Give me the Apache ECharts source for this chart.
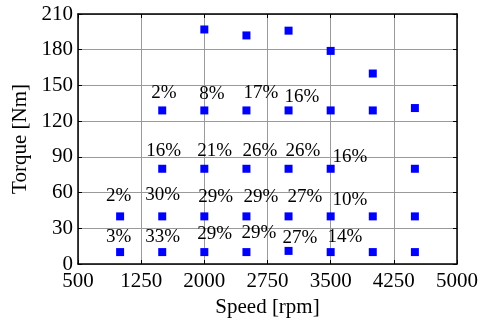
<!DOCTYPE html>
<html><head><meta charset="utf-8">
<script src="https://cdn.jsdelivr.net/npm/echarts@6/dist/echarts.min.js"></script>
<style>html,body{margin:0;padding:0;background:#fff}#c{width:482px;height:323px}</style>
</head><body><div id="c"></div>
<script>
// Operating points
var speeds  = [1000,1500,2000,2500,3000,3500,4000,4500, 1000,1500,2000,2500,3000,3500,4000,4500, 1500,2000,2500,3000,3500,4500, 1500,2000,2500,3000,3500,4000,4500, 2000,2500,3000,3500,4000];
var torques = [10,10,10,10,11,10,10,10, 40,40,40,40,40,40,40,40, 80,80,80,80,80,80, 129,129,129,129,129,129,131, 197,192,196,179,160];
// Percentage labels (anchor = left edge / middle)
var labelText   = ['2%','8%','17%','16%', '16%','21%','26%','26%','16%', '2%','30%','29%','29%','27%','10%', '3%','33%','29%','29%','27%','14%'];
var labelSpeed  = [1369,1940,2464,2952, 1309,1916,2452,2963,3523, 833,1297,1928,2464,2987,3523, 833,1297,1916,2440,2928,3463];
var labelTorque = [144,143,144,140, 95,95,95,95,90, 57,58,56,56,56,54, 23,23,25,26,22,23];
var xTicks = [500,1250,2000,2750,3500,4250,5000];
var yTicks = [0,30,60,90,120,150,180,210];
var X0 = xTicks[0];

var font = 'Liberation Serif';
var pts = speeds.map(function(s,i){return [s - X0, torques[i]];});
var lbl = labelText.map(function(t,i){return {value:[labelSpeed[i]-X0, labelTorque[i]], name:t};});

var chart = echarts.init(document.getElementById('c'));
function axisCommon(){ return {
  axisLine:{show:true,onZero:false,lineStyle:{color:'#000',width:1.5}},
  axisTick:{show:true,inside:true,length:4,lineStyle:{color:'#000',width:1}}
};}
chart.setOption({
  animation:false,
  grid:{left:78,right:25,top:14,bottom:56,containLabel:false},
  xAxis:[
    Object.assign({type:'value',min:0,max:xTicks[xTicks.length-1]-X0,interval:750,position:'bottom',
      name:'Speed [rpm]',nameLocation:'middle',nameGap:33,
      nameTextStyle:{fontFamily:font,fontSize:21,color:'#000'},
      axisLabel:{fontFamily:font,fontSize:21,color:'#000',margin:7,formatter:function(v){return String(v+X0);}},
      splitLine:{show:true,lineStyle:{color:'#9a9a9a',width:1}}},axisCommon()),
    Object.assign({type:'value',min:0,max:xTicks[xTicks.length-1]-X0,interval:750,position:'top',
      axisLabel:{show:false},splitLine:{show:false}},axisCommon())
  ],
  yAxis:[
    Object.assign({type:'value',min:yTicks[0],max:yTicks[yTicks.length-1],interval:30,position:'left',
      name:'Torque [Nm]',nameLocation:'middle',nameGap:41,nameRotate:90,
      nameTextStyle:{fontFamily:font,fontSize:21,color:'#000'},
      axisLabel:{fontFamily:font,fontSize:21,color:'#000',margin:5},
      splitLine:{show:true,lineStyle:{color:'#9a9a9a',width:1}}},axisCommon()),
    Object.assign({type:'value',min:yTicks[0],max:yTicks[yTicks.length-1],interval:30,position:'right',
      axisLabel:{show:false},splitLine:{show:false}},axisCommon())
  ],
  series:[
    {type:'scatter',data:pts,symbol:'rect',symbolSize:8,itemStyle:{color:'#0000ff',opacity:1},z:3},
    {type:'scatter',data:lbl,symbolSize:0,z:4,itemStyle:{opacity:1},
      label:{show:true,position:[0,0],align:'left',verticalAlign:'middle',opacity:1,
        fontFamily:font,fontSize:19,color:'#000',formatter:function(p){return p.name;}}}
  ]
});
</script></body></html>
